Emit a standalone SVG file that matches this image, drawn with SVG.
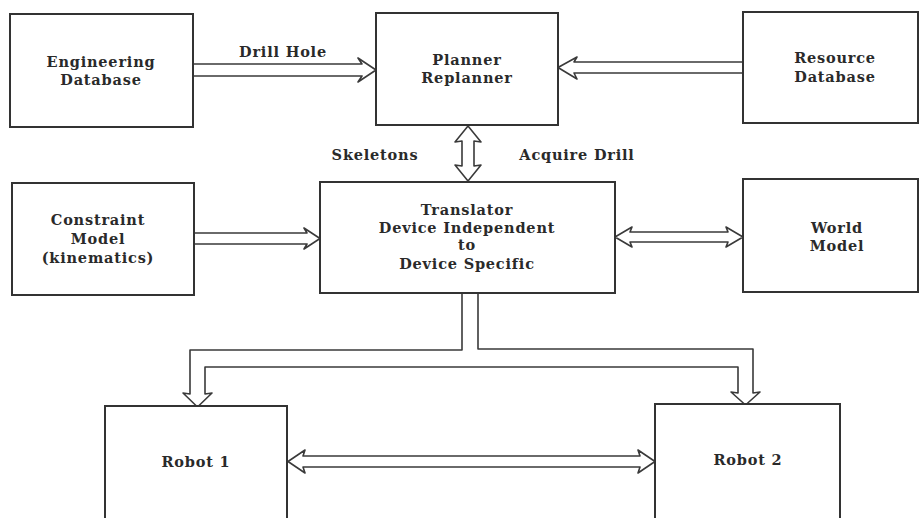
<svg xmlns="http://www.w3.org/2000/svg" width="921" height="518" viewBox="0 0 921 518">
<style>
.box{fill:#fff;stroke:#333;stroke-width:2}
.t{font-family:"DejaVu Serif","Liberation Serif",serif;font-weight:bold;font-size:14.5px;letter-spacing:0.8px;fill:#2a2a2a;text-anchor:middle}
.c{fill:none;stroke:#3a3a3a;stroke-width:1.6;stroke-linejoin:round}
</style>
<rect width="921" height="518" fill="#fff"/>
<g id="connectors">
<path class="c" d="M193,64 L362,64 L358,58 L376,70 L358,82 L362,76 L193,76"/>
<path class="c" d="M743,62 L574,62 L577,57 L558,67.5 L577,79 L574,73 L743,73"/>
<path class="c" d="M462,141 L455,142 L468,126 L481,142 L474,141 L474,166 L481,165 L468,181 L455,165 L462,166 Z"/>
<path class="c" d="M194,233 L307,233 L304,228 L320,238.5 L304,249 L307,244 L194,244"/>
<path class="c" d="M630,232 L728,232 L726,227 L743,237 L726,247 L728,242 L630,242 L632,247 L615,237 L632,227 Z"/>
<path class="c" d="M462,293 L462,350 L190,350 L190,394 L183,393 L197.5,407 L212,393 L205,394 L205,367 L738,367 L738,393 L731,392 L745.5,405 L760,392 L753,393 L753,349 L478,349 L478,293"/>
<path class="c" d="M303,456 L640,456 L638,450 L655,461.5 L638,473 L640,467 L303,467 L305,473 L288,461.5 L305,450 Z"/>
</g>
<g id="engineering">
<rect class="box" x="10" y="14" width="183" height="113"/>
<text class="t" x="101" y="67">Engineering</text>
<text class="t" x="101" y="85">Database</text>
</g>
<g id="planner">
<rect class="box" x="376" y="13" width="182" height="112"/>
<text class="t" x="467" y="65">Planner</text>
<text class="t" x="467" y="83">Replanner</text>
</g>
<g id="resource">
<rect class="box" x="743" y="12" width="175" height="111"/>
<text class="t" x="835" y="63">Resource</text>
<text class="t" x="835" y="82">Database</text>
</g>
<g id="labels">
<text class="t" x="283" y="57">Drill Hole</text>
<text class="t" x="375" y="160">Skeletons</text>
<text class="t" x="577" y="160">Acquire Drill</text>
</g>
<g id="constraint">
<rect class="box" x="12" y="183" width="182" height="112"/>
<text class="t" x="98" y="225">Constraint</text>
<text class="t" x="98" y="244">Model</text>
<text class="t" x="98" y="263">(kinematics)</text>
</g>
<g id="translator">
<rect class="box" x="320" y="182" width="295" height="111"/>
<text class="t" x="467" y="215">Translator</text>
<text class="t" x="467" y="233">Device Independent</text>
<text class="t" x="467" y="250">to</text>
<text class="t" x="467" y="269">Device Specific</text>
</g>
<g id="world">
<rect class="box" x="743" y="179" width="175" height="113"/>
<text class="t" x="837" y="233">World</text>
<text class="t" x="837" y="251">Model</text>
</g>
<g id="robot1">
<rect class="box" x="105" y="406" width="182" height="116"/>
<text class="t" x="196" y="467">Robot 1</text>
</g>
<g id="robot2">
<rect class="box" x="655" y="404" width="185" height="118"/>
<text class="t" x="748" y="465">Robot 2</text>
</g>
</svg>
